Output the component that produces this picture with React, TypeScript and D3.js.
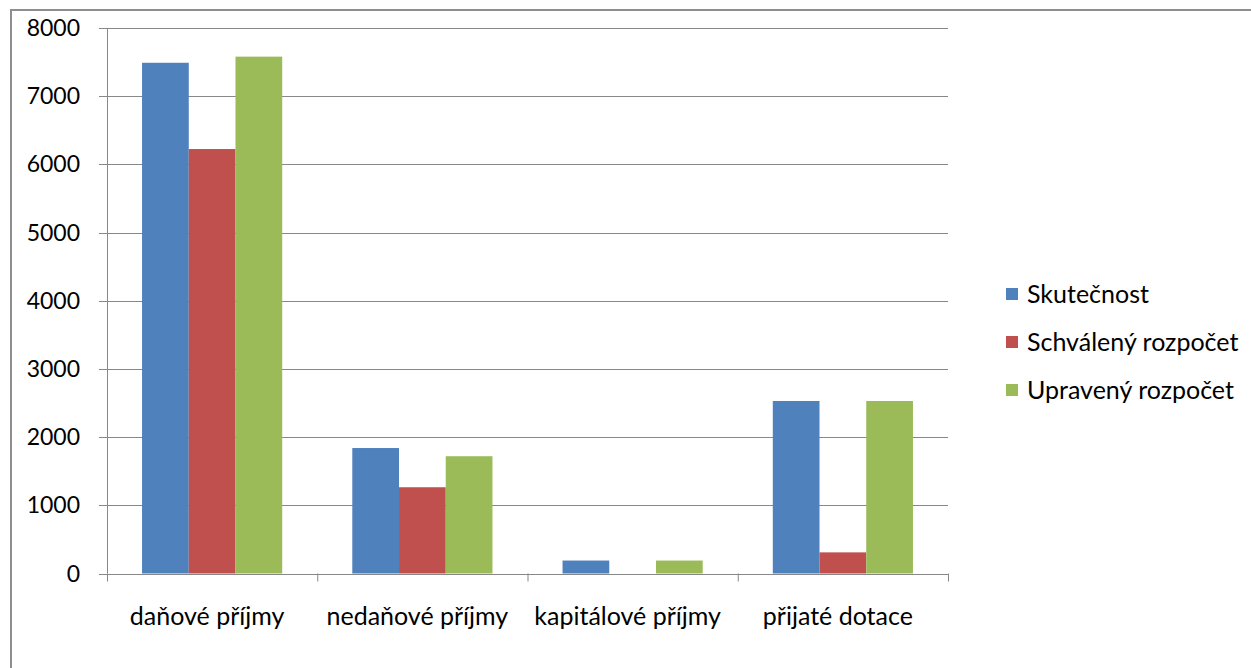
import React from "react";
import * as d3 from "d3";

const categories = ["daňové příjmy", "nedaňové příjmy", "kapitálové příjmy", "přijaté dotace"];
const seriesNames = ["Skutečnost", "Schválený rozpočet", "Upravený rozpočet"];
const skutecnost = [7490, 1840, 190, 2530];
const schvaleny = [6225, 1265, 0, 310];
const upraveny = [7580, 1720, 190, 2530];
const yTicks = [0, 1000, 2000, 3000, 4000, 5000, 6000, 7000, 8000];
const colors = ["#4f81bd", "#c0504d", "#9bbb59"];

export default function App() {
  const W = 1251, H = 668;
  const left = 107, right = 948, top = 28, bottom = 573.5;
  const series = [skutecnost, schvaleny, upraveny];
  const x = d3.scaleBand<string>().domain(categories).range([left, right]).paddingInner(0).paddingOuter(0);
  const y = d3.scaleLinear().domain([0, 8000]).range([bottom, top]);
  const cw = x.bandwidth();
  const bw = cw / 4.5;
  const font = "Lato, 'Open Sans', sans-serif";
  return (
    <svg width={W} height={H} style={{ position: "absolute", left: 0, top: 0, background: "#fff" }}>
      <rect x={0} y={0} width={W} height={H} fill="#fff" />
      <rect x={11} y={10} width={W + 20} height={H + 20} fill="none" stroke="#8e8e8e" strokeWidth={2} />
      {yTicks.map((t) => (
        <g key={t}>
          <line x1={left - 8} x2={right} y1={Math.round(y(t)) + 0.5} y2={Math.round(y(t)) + 0.5} stroke="#888" strokeWidth={1} />
          <text x={80} y={y(t)} dy="0.35em" textAnchor="end" fontFamily={font} fontSize={23} fill="#000">{t}</text>
        </g>
      ))}
      {categories.map((c, i) =>
        series.map((s, j) => (
          <rect key={c + j} x={(x(c) as number) + bw * 0.75 + j * bw} y={y(s[i])} width={bw} height={bottom - y(s[i])} fill={colors[j]} />
        ))
      )}
      <line x1={left + 0.5} x2={left + 0.5} y1={top} y2={bottom} stroke="#888" />
      {[0, 1, 2, 3, 4].map((k) => (
        <line key={k} x1={left + k * cw + 0.5} x2={left + k * cw + 0.5} y1={bottom} y2={bottom + 8} stroke="#888" />
      ))}
      {categories.map((c) => (
        <text key={c} x={(x(c) as number) + cw / 2 - 5} y={616} dy="0.35em" textAnchor="middle" fontFamily={font} fontSize={25} fill="#000">{c}</text>
      ))}
      {seriesNames.map((n, j) => (
        <g key={n} transform={`translate(1006, ${294 + j * 48})`}>
          <rect x={0} y={-6} width={12} height={12} fill={colors[j]} />
          <text x={21} y={0} dy="0.35em" fontFamily={font} fontSize={25} fill="#000">{n}</text>
        </g>
      ))}
    </svg>
  );
}
